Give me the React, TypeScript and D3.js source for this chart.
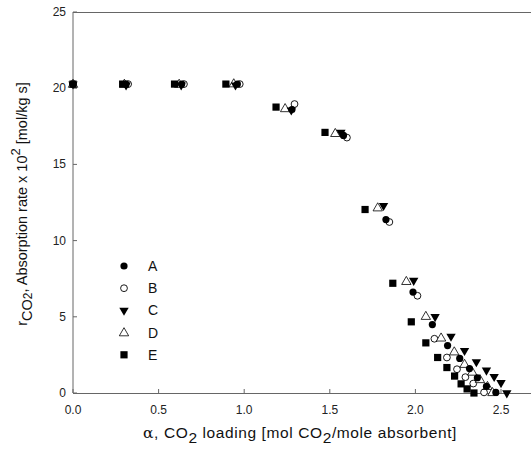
import React from 'react';
import * as d3 from 'd3';

// loading (mol CO2 / mole absorbent) and absorption rate x 10^2 for each run
const aX = [0, 0.31, 0.635, 0.96, 1.279, 1.58, 1.828, 1.986, 2.099, 2.188, 2.259, 2.316, 2.362, 2.415, 2.47];
const aY = [20.27, 20.27, 20.27, 20.27, 18.6, 16.9, 11.38, 6.62, 4.49, 3.11, 2.27, 1.6, 1.0, 0.44, 0.04];

const bX = [0, 0.322, 0.648, 0.974, 1.294, 1.6, 1.848, 2.012, 2.111, 2.184, 2.243, 2.292, 2.338, 2.401];
const bY = [20.27, 20.27, 20.27, 20.27, 18.96, 16.76, 11.22, 6.38, 3.56, 2.33, 1.56, 1.04, 0.62, 0.04];

const cX = [0, 0.31, 0.632, 0.949, 1.275, 1.565, 1.814, 1.99, 2.115, 2.208, 2.287, 2.356, 2.415, 2.46, 2.5, 2.534];
const cY = [20.27, 20.2, 20.2, 20.2, 18.56, 17.1, 12.29, 7.38, 5.0, 3.71, 2.78, 2.04, 1.49, 1.07, 0.67, 0.0];

const dX = [0, 0.3, 0.62, 0.939, 1.239, 1.532, 1.78, 1.947, 2.061, 2.15, 2.227, 2.287, 2.332, 2.377, 2.421, 2.45];
const dY = [20.27, 20.27, 20.27, 20.3, 18.67, 17.04, 12.16, 7.33, 5.04, 3.62, 2.71, 1.89, 1.38, 0.89, 0.44, 0.04];

const eX = [0, 0.29, 0.593, 0.893, 1.186, 1.472, 1.706, 1.868, 1.976, 2.061, 2.13, 2.184, 2.229, 2.267, 2.302, 2.342];
const eY = [20.27, 20.27, 20.27, 20.27, 18.76, 17.1, 12.04, 7.2, 4.67, 3.29, 2.33, 1.67, 1.11, 0.6, 0.27, 0.0];

const seriesNames = ['A', 'B', 'C', 'D', 'E'];
const xTicks = [0, 0.5, 1.0, 1.5, 2.0, 2.5];
const yTicks = [0, 5, 10, 15, 20, 25];

const W = 531, H = 451;
const left = 73, top = 12, bottom = 393, right = 534;
const axisColor = '#666';

const x = d3.scaleLinear().domain([0, 2.7]).range([left, left + 2.7 * 171.2]);
const y = d3.scaleLinear().domain([0, 25]).range([bottom, top]);

function Marker({ kind, cx, cy }: { kind: string; cx: number; cy: number }) {
  if (kind === 'A') return <circle cx={cx} cy={cy} r={3.6} fill="#000" />;
  if (kind === 'B') return <circle cx={cx} cy={cy} r={3.4} fill="#fff" stroke="#000" strokeWidth={0.9} />;
  if (kind === 'C') {
    const tri = d3.symbol().type(d3.symbolTriangle).size(38)();
    return <path d={tri || ''} transform={`translate(${cx},${cy}) rotate(180)`} fill="#000" />;
  }
  if (kind === 'D') {
    const tri = d3.symbol().type(d3.symbolTriangle).size(38)();
    return <path d={tri || ''} transform={`translate(${cx},${cy + 0.5})`} fill="#fff" stroke="#000" strokeWidth={0.8} />;
  }
  return <rect x={cx - 3.6} y={cy - 3.6} width={7.2} height={7.2} fill="#000" />;
}

export default function App() {
  const series = [
    { name: 'A', xs: aX, ys: aY },
    { name: 'B', xs: bX, ys: bY },
    { name: 'C', xs: cX, ys: cY },
    { name: 'D', xs: dX, ys: dY },
    { name: 'E', xs: eX, ys: eY },
  ];
  // stacking order as it looks in the original (squares end up on top)
  const drawOrder = ['B', 'D', 'A', 'C', 'E'];
  const font = '"Liberation Sans", Arial, sans-serif';

  return (
    <svg width={W} height={H} style={{ position: 'absolute', left: 0, top: 0, background: '#fff' }} fontFamily={font}>
      <rect width={W} height={H} fill="#fff" />
      {/* frame */}
      <line x1={left} y1={top} x2={left} y2={bottom} stroke={axisColor} />
      <line x1={left} y1={bottom + 0.5} x2={right} y2={bottom + 0.5} stroke={axisColor} />
      <line x1={left} y1={top + 0.5} x2={right} y2={top + 0.5} stroke={axisColor} />

      {xTicks.map((t) => (
        <g key={'x' + t}>
          <line x1={x(t)} x2={x(t)} y1={bottom} y2={bottom - 4} stroke={axisColor} />
          <text x={x(t)} y={bottom + 21} textAnchor="middle" fontSize={12} fill="#222">{t.toFixed(1)}</text>
        </g>
      ))}
      {yTicks.map((t) => (
        <g key={'y' + t}>
          <line x1={left} x2={left + 4} y1={y(t)} y2={y(t)} stroke={axisColor} />
          <text x={left - 7} y={y(t) + 4} textAnchor="end" fontSize={12} fill="#222">{t}</text>
        </g>
      ))}

      {drawOrder.map((name) => {
        const s = series.find((d) => d.name === name)!;
        return (
          <g key={name}>
            {s.xs.map((v, i) => (
              <Marker key={i} kind={name} cx={x(v)} cy={y(s.ys[i])} />
            ))}
          </g>
        );
      })}

      {/* legend */}
      {seriesNames.map((n, i) => (
        <g key={'leg' + n}>
          <Marker kind={n} cx={124} cy={266 + i * 22.2} />
          <text x={148} y={266 + i * 22.2 + 5} fontSize={14} fill="#111">{n}</text>
        </g>
      ))}

      {/* x title */}
      <text x={300} y={438} textAnchor="middle" fontSize={15.5} fill="#111" letterSpacing={0.6}>
        <tspan fontFamily='"DejaVu Serif", serif'>α</tspan>
        <tspan>, CO</tspan>
        <tspan dy={5}>2</tspan>
        <tspan dy={-5}> loading [mol CO</tspan>
        <tspan dy={5}>2</tspan>
        <tspan dy={-5}>/mole absorbent]</tspan>
      </text>

      {/* y title */}
      <text transform={`translate(27,${204}) rotate(-90)`} textAnchor="middle" fontSize={14.5} fill="#111">
        <tspan>r</tspan>
        <tspan dy={5}>CO</tspan>
        <tspan dy={0} fontSize={12}>2</tspan>
        <tspan dy={-5}>, Absorption rate x 10</tspan>
        <tspan dy={-7} fontSize={13}>2</tspan>
        <tspan dy={7}> [mol/kg s]</tspan>
      </text>
    </svg>
  );
}
